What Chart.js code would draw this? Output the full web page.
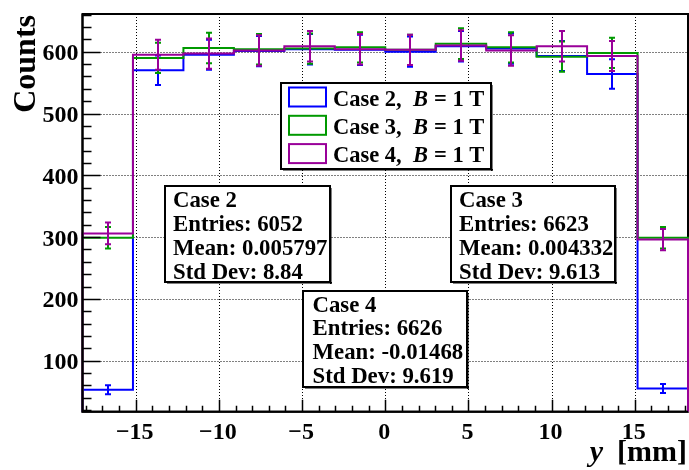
<!DOCTYPE html>
<html>
<head>
<meta charset="utf-8">
<script src="https://cdn.jsdelivr.net/npm/chart.js@4.4.1/dist/chart.umd.min.js"></script>
<style>
  html, body { margin: 0; padding: 0; background: #ffffff; }
  #wrap { width: 689px; height: 470px; position: relative; }
  canvas { display: block; }
</style>
</head>
<body>
<div id="wrap"><canvas id="hist" width="689" height="470"></canvas></div>
<script>
// Histogram binning (y position in mm)
const binLow = -18.2;
const binHigh = 18.2;

// Bin contents for each configuration (12 bins)
const case2Counts = [53, 570, 595, 601, 604, 603, 600, 609, 605, 593, 564, 55];
const case3Counts = [299, 590, 606, 604, 605, 607, 603, 613, 607, 592, 598, 299];
const case4Counts = [306, 595, 597, 602, 609, 604, 603, 610, 602, 609, 593, 296];

// Axis ranges and labelled ticks
const yLow = 17.5;
const yHigh = 661;
const xTickValues = [-15, -10, -5, 0, 5, 10, 15];
const yTickValues = [100, 200, 300, 400, 500, 600];

// Series labels and statistics-box contents
const seriesNames = ['Case 2', 'Case 3', 'Case 4'];
const fieldLabel = '1 T';
const statEntries = [6052, 6623, 6626];
const statMeans = ['0.005797', '0.004332', '-0.01468'];
const statStdDevs = ['8.84', '9.613', '9.619'];

const seriesColors = ['#0000ff', '#009900', '#990099'];
const allCounts = [case2Counts, case3Counts, case4Counts];
const nBins = case2Counts.length;
const binWidth = (binHigh - binLow) / nBins;
const SERIF = "'Liberation Serif', 'DejaVu Serif', serif";

// Outline of a histogram: steps across each bin, closed down to the axis minimum
function stepPoints(counts) {
  const pts = [{ x: binLow, y: yLow }];
  counts.forEach((c, i) => {
    const lo = binLow + i * binWidth;
    pts.push({ x: lo, y: c }, { x: lo + binWidth, y: c });
  });
  pts.push({ x: binHigh, y: yLow });
  return pts;
}

// Poisson uncertainty of a bin content
const poissonError = n => Math.sqrt(n);

function fmtTick(v) {
  return v < 0 ? '\u2212' + Math.abs(v) : String(v);
}

// Frame and dotted grid underneath the histograms
const framePlugin = {
  id: 'frame',
  beforeDatasetsDraw(chart) {
    const { ctx, chartArea: a, scales: { x, y } } = chart;
    ctx.save();
    ctx.strokeStyle = '#000';
    ctx.lineWidth = 1;
    ctx.setLineDash([1, 2]);
    xTickValues.forEach(v => {
      const px = Math.round(x.getPixelForValue(v)) + 0.5;
      ctx.beginPath(); ctx.moveTo(px, a.top); ctx.lineTo(px, a.bottom); ctx.stroke();
    });
    yTickValues.forEach(v => {
      const py = Math.round(y.getPixelForValue(v)) + 0.5;
      ctx.beginPath(); ctx.moveTo(a.left, py); ctx.lineTo(a.right, py); ctx.stroke();
    });
    ctx.setLineDash([]);
    ctx.lineWidth = 2;
    ctx.strokeRect(a.left, a.top, a.right - a.left, a.bottom - a.top);
    ctx.restore();
  }
};

// Vertical error bars with small caps, drawn right after each histogram
const errorBarPlugin = {
  id: 'errorBars',
  afterDatasetDraw(chart, args) {
    const counts = allCounts[args.index];
    const { ctx, scales: { x, y } } = chart;
    ctx.save();
    ctx.strokeStyle = seriesColors[args.index];
    ctx.lineWidth = 2;
    counts.forEach((c, i) => {
      const e = poissonError(c);
      const px = Math.round(x.getPixelForValue(binLow + (i + 0.5) * binWidth));
      const pTop = y.getPixelForValue(c + e);
      const pBot = y.getPixelForValue(c - e);
      ctx.beginPath();
      ctx.moveTo(px, pTop); ctx.lineTo(px, pBot);
      ctx.moveTo(px - 3, pTop); ctx.lineTo(px + 3, pTop);
      ctx.moveTo(px - 3, pBot); ctx.lineTo(px + 3, pBot);
      ctx.stroke();
    });
    ctx.restore();
  }
};

function drawPave(ctx, left, top, right, bottom) {
  ctx.fillStyle = '#fff';
  ctx.fillRect(left, top, right - left, bottom - top);
  ctx.strokeStyle = '#000';
  ctx.lineWidth = 2;
  ctx.strokeRect(left, top, right - left, bottom - top);
  ctx.fillStyle = '#000';
  ctx.fillRect(right, top + 2, 1.5, bottom - top);
  ctx.fillRect(left + 2, bottom, right - left, 1.5);
}

// Axes, ticks, labels, statistics boxes and legend on top
const overlayPlugin = {
  id: 'overlay',
  afterDatasetsDraw(chart) {
    const { ctx, chartArea: a, scales: { x, y } } = chart;
    ctx.save();

    // axis lines
    ctx.strokeStyle = '#000';
    ctx.lineWidth = 2;
    ctx.beginPath();
    ctx.moveTo(a.left, a.top); ctx.lineTo(a.left, a.bottom); ctx.lineTo(a.right, a.bottom);
    ctx.stroke();

    // y ticks (inward), major every 100, minor every 20
    ctx.lineWidth = 1.5;
    ctx.beginPath();
    for (let v = 20; v <= yHigh; v += 20) {
      if (v < yLow) continue;
      const py = Math.round(y.getPixelForValue(v)) + 0.5;
      const len = v % 100 === 0 ? 18 : 9;
      ctx.moveTo(a.left, py); ctx.lineTo(a.left + len, py);
    }
    // x ticks (inward), major every 5, minor every 1
    for (let v = Math.ceil(binLow); v <= binHigh; v += 1) {
      const px = Math.round(x.getPixelForValue(v)) + 0.5;
      const len = v % 5 === 0 ? 12 : 6;
      ctx.moveTo(px, a.bottom); ctx.lineTo(px, a.bottom - len);
    }
    ctx.stroke();

    // tick labels
    ctx.fillStyle = '#000';
    ctx.font = 'bold 24px ' + SERIF;
    ctx.textAlign = 'right';
    ctx.textBaseline = 'alphabetic';
    yTickValues.forEach(v => {
      ctx.fillText(String(v), a.left - 4, y.getPixelForValue(v) + 8.5);
    });
    ctx.textAlign = 'center';
    xTickValues.forEach(v => {
      ctx.fillText(fmtTick(v), x.getPixelForValue(v) - 1, a.bottom + 27);
    });

    // axis titles
    ctx.font = 'bold 32px ' + SERIF;
    ctx.save();
    ctx.translate(35, 15);
    ctx.rotate(-Math.PI / 2);
    ctx.textAlign = 'right';
    ctx.fillText('Counts', 0, 0);
    ctx.restore();

    ctx.textAlign = 'left';
    ctx.font = 'bold 30px ' + SERIF;
    const unitText = '[mm]';
    const unitW = ctx.measureText(unitText).width;
    const unitX = 687 - unitW;
    ctx.fillText(unitText, unitX, 461);
    ctx.font = 'italic bold 30px ' + SERIF;
    const varW = ctx.measureText('y').width;
    ctx.fillText('y', unitX - 14 - varW, 461);

    // statistics boxes
    const boxes = [
      { l: 165, t: 186, r: 330, b: 282, tx: 173, base: 206.5, dy: 24.3 },
      { l: 451, t: 186, r: 615, b: 282, tx: 459, base: 206.5, dy: 24.3 },
      { l: 303, t: 291, r: 467, b: 387, tx: 312.5, base: 311.5, dy: 23.9 }
    ];
    boxes.forEach((bx, k) => {
      drawPave(ctx, bx.l, bx.t, bx.r, bx.b);
      ctx.fillStyle = '#000';
      ctx.font = 'bold 22.8px ' + SERIF;
      ctx.textAlign = 'left';
      const lines = [
        seriesNames[k],
        'Entries: ' + statEntries[k],
        'Mean: ' + statMeans[k],
        'Std Dev: ' + statStdDevs[k]
      ];
      lines.forEach((s, j) => ctx.fillText(s, bx.tx, bx.base + j * bx.dy));
    });

    // legend
    drawPave(ctx, 281, 83, 491, 169);
    const rowY = [97, 125.3, 153.6];
    seriesNames.forEach((name, k) => {
      ctx.strokeStyle = seriesColors[k];
      ctx.lineWidth = 2;
      ctx.strokeRect(289, rowY[k] - 9.5, 37, 19);
      ctx.fillStyle = '#000';
      ctx.font = 'bold 22.5px ' + SERIF;
      ctx.textAlign = 'left';
      const base = rowY[k] + 8.5;
      ctx.fillText(name + ',', 333, base);
      ctx.font = 'italic bold 22.5px ' + SERIF;
      ctx.fillText('B', 413, base);
      const bW = ctx.measureText('B').width;
      ctx.font = 'bold 22.5px ' + SERIF;
      ctx.fillText('= ' + fieldLabel, 413 + bW + 6, base);
    });

    ctx.restore();
  }
};

const datasets = allCounts.map((counts, k) => ({
  label: seriesNames[k],
  data: stepPoints(counts),
  borderColor: seriesColors[k],
  borderWidth: 2,
  pointRadius: 0,
  tension: 0,
  fill: false,
  clip: false,
  borderJoinStyle: 'miter',
  order: allCounts.length - k
}));

new Chart(document.getElementById('hist'), {
  type: 'line',
  data: { datasets },
  options: {
    responsive: false,
    animation: false,
    devicePixelRatio: 1,
    layout: { padding: { left: 82.5, right: 1, top: 14, bottom: 58.3 } },
    plugins: { legend: { display: false }, tooltip: { enabled: false } },
    scales: {
      x: { type: 'linear', min: binLow, max: binHigh, display: false },
      y: { type: 'linear', min: yLow, max: yHigh, display: false }
    }
  },
  plugins: [framePlugin, errorBarPlugin, overlayPlugin]
});
</script>
</body>
</html>
